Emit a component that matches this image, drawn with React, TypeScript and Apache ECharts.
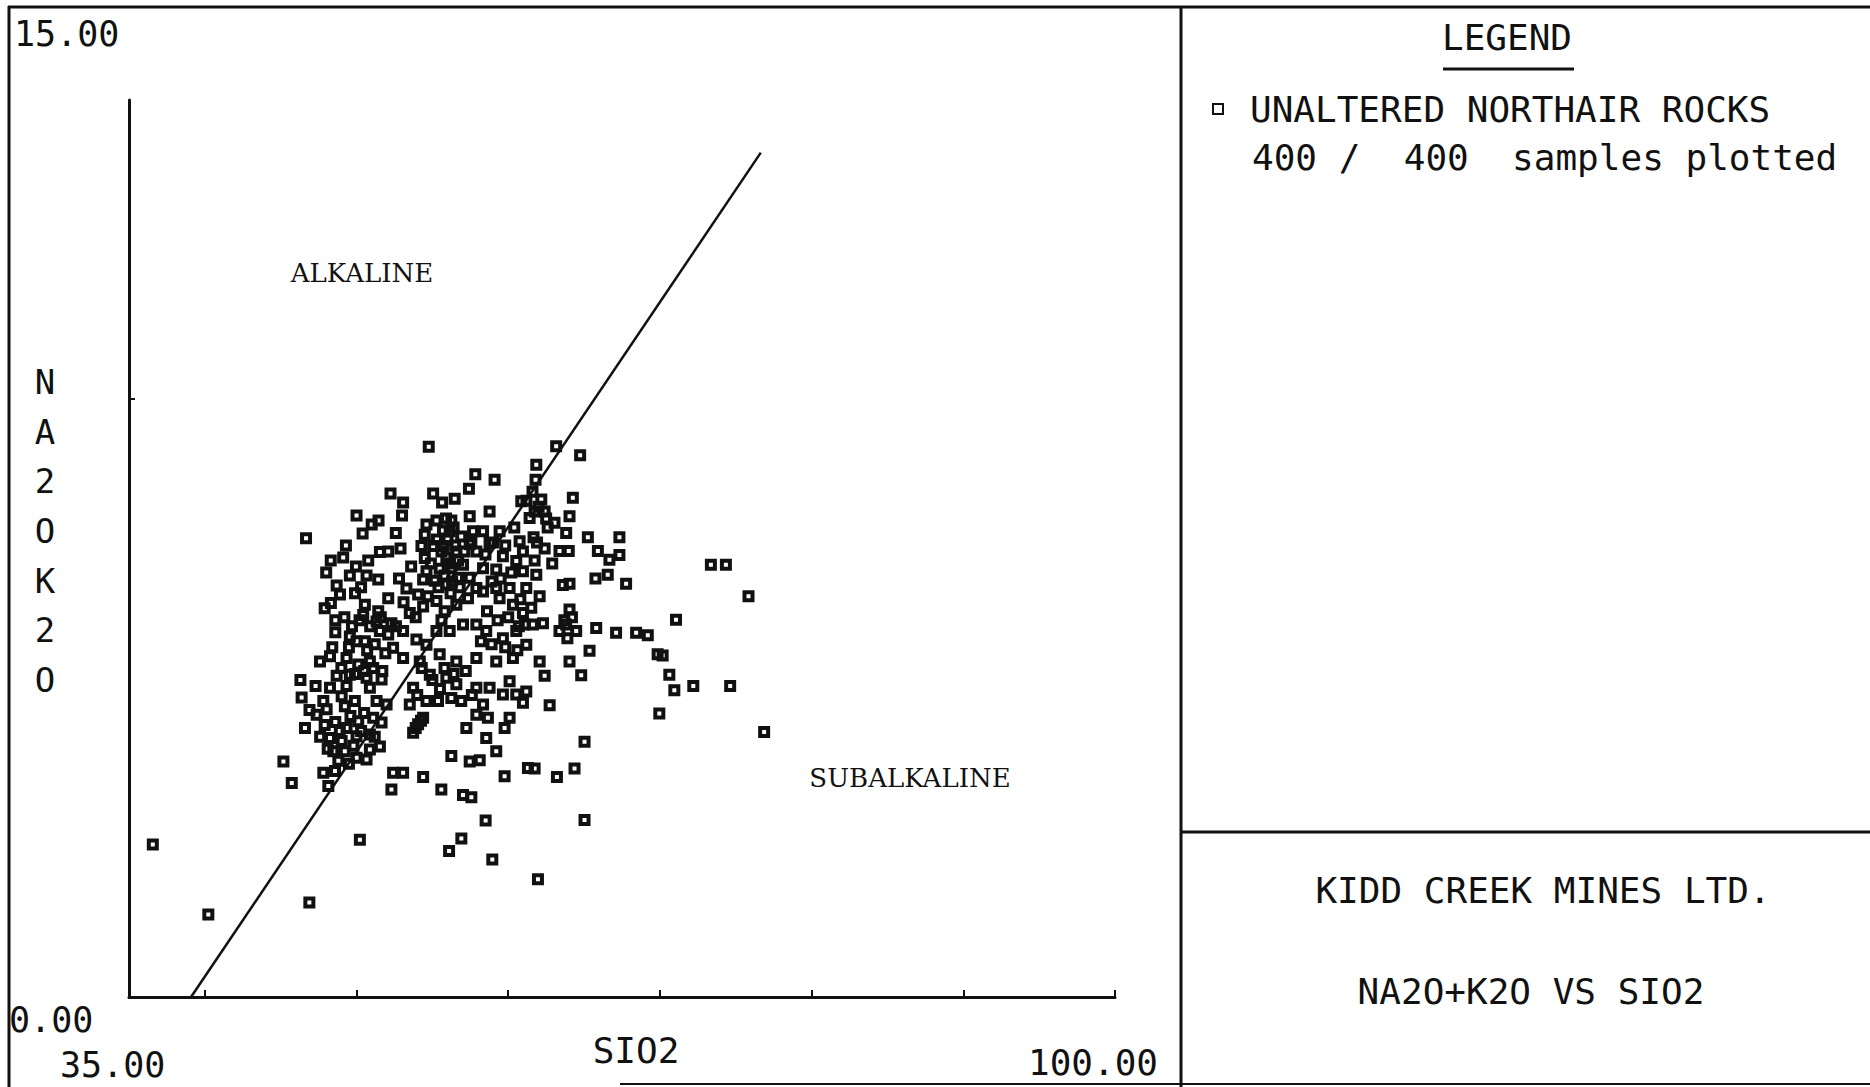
import React, { useEffect, useRef } from "react";
import * as echarts from "echarts";

// ---- axis ranges & labels ----
const xRange = [35, 100];
const yRange = [0, 15];
const xTickValues = [40, 50, 60, 70, 80, 90, 100];
const yTickValues = [10];
const xRangeLabels = ["35.00", "100.00"];
const yRangeLabels = ["0.00", "15.00"];
const xAxisName = "SIO2";
const yAxisName = "NA2OK2O";
const fieldLabels = ["ALKALINE", "SUBALKALINE"];
const seriesName = "UNALTERED NORTHAIR ROCKS";
const samplesCount = ["400", "400"];
const titleLines = ["KIDD CREEK MINES LTD.", "NA2O+K2O VS SIO2"];

// alkaline / subalkaline dividing line
const boundaryLine: number[][] = [
  [39.09, 0],
  [76.65, 14.12],
];

// ---- samples (SiO2 %, Na2O+K2O %) ----
const samplesUpper: number[][] = [
  [54.76, 9.2], [57.83, 8.74], [59.1, 8.65], [52.24, 8.42], [53.07, 8.27],
  [55.05, 8.42], [55.64, 8.27], [56.47, 8.33], [57.41, 8.5], [60.86, 8.29],
  [58.77, 8.12], [57.46, 8.04], [51.45, 7.97], [52.59, 7.76], [46.67, 7.67],
  [63.16, 9.21], [64.74, 9.06], [61.85, 8.9], [61.8, 8.65], [62.18, 8.32],
  [64.26, 8.35], [61.74, 8.12], [62.4, 8.12], [61.41, 8.01], [63.05, 7.93],
  [64.04, 8.04], [61.2, 8.3], [62.0, 8.2], [61.6, 8.45], [62.5, 8.0],
  [50.4, 7.75], [51.0, 7.9], [50.0, 8.05], [53.0, 8.05], [52.9, 7.5],
];

const samplesCoreTop: number[][] = [
  [54.61, 7.9], [55.27, 7.97], [56.25, 7.97], [54.5, 7.73], [56.14, 7.79],
  [54.28, 7.54], [55.05, 7.54], [55.7, 7.54], [56.58, 7.45], [54.5, 7.34],
  [55.92, 7.35], [54.61, 7.12], [55.48, 7.16], [56.25, 7.17], [57.02, 7.23],
  [54.39, 6.98], [55.16, 6.96], [55.92, 6.9], [56.69, 7.01], [57.46, 7.57],
  [57.68, 7.79], [58.34, 7.79], [57.46, 7.01], [57.57, 7.62], [57.9, 7.45],
  [58.77, 7.59], [59.43, 7.79], [59.65, 7.37], [60.53, 7.29], [60.97, 7.45],
  [60.75, 7.62], [59.21, 7.15], [58.34, 7.17], [57.9, 6.84], [59.21, 6.84],
  [60.09, 6.84], [60.97, 7.12], [61.19, 6.84],
  [55.9, 8.0], [56.4, 7.85], [56.0, 7.65], [56.5, 7.55], [55.6, 7.45],
  [56.1, 7.25], [56.7, 7.3], [55.8, 7.05], [56.3, 6.95], [55.4, 6.85],
  [56.9, 7.7], [57.1, 7.45], [55.3, 7.65], [54.9, 7.25], [55.7, 7.8],
  [56.8, 6.85], [58.5, 7.4], [59.0, 7.6], [59.8, 7.55], [60.4, 7.85],
  [59.5, 7.0], [60.2, 7.1], [58.9, 6.95], [60.8, 6.65], [62.4, 7.5],
  [62.9, 7.25], [62.6, 7.85], [61.9, 7.6],
];

const samplesCoreLeft: number[][] = [
  [51.54, 7.44], [52.09, 7.45], [49.12, 7.35], [49.96, 7.2], [50.77, 7.3],
  [49.56, 7.05], [50.66, 7.05], [51.43, 6.98], [48.69, 6.88], [48.91, 6.73],
  [48.31, 6.59], [53.29, 6.83], [54.06, 6.73], [52.09, 6.67], [50.55, 6.56],
  [50.44, 6.39], [51.43, 6.45], [51.32, 6.28], [53.51, 6.42], [54.39, 6.53],
  [55.27, 6.62], [55.81, 6.45], [56.58, 6.56], [57.35, 6.67], [58.34, 6.78],
  [59.43, 6.67], [60.31, 6.56], [60.97, 6.42], [61.08, 6.23],
  [52.8, 7.0], [53.6, 7.2], [53.1, 6.6], [53.9, 6.35], [54.7, 6.7],
  [55.6, 6.3], [56.2, 6.75], [52.6, 6.2], [48.0, 7.1], [48.3, 7.3],
  [49.3, 7.55], [47.9, 6.5], [48.6, 6.3], [49.9, 6.75], [50.3, 6.85],
];

const samplesCoreMiddle: number[][] = [
  [49.56, 6.03], [50.55, 5.95], [51.54, 6.12], [52.09, 6.06], [52.41, 5.84],
  [47.59, 5.61], [48.25, 5.7], [49.34, 5.67], [50.11, 5.56], [50.88, 5.61],
  [53.07, 6.12], [53.95, 5.98], [54.61, 5.89], [55.27, 6.12], [56.14, 6.12],
  [57.02, 6.23], [57.9, 6.23], [58.55, 6.12], [59.65, 6.0], [60.53, 6.12],
  [61.19, 5.89], [53.07, 5.67], [54.17, 5.61], [55.48, 5.73], [56.58, 5.61],
  [57.9, 5.67], [59.21, 5.61], [60.31, 5.67],
  [49.2, 6.35], [49.7, 6.2], [50.2, 6.3], [50.9, 6.2], [51.6, 6.35],
  [49.5, 5.85], [50.0, 5.95], [50.7, 5.8], [51.2, 5.9], [51.9, 5.75],
  [49.0, 5.5], [49.9, 5.4], [50.5, 5.45], [51.1, 5.5], [51.7, 5.45],
  [48.6, 6.1], [48.4, 5.85], [52.3, 6.25], [58.6, 6.45], [59.3, 6.3],
  [60.0, 6.35], [60.7, 6.2], [58.9, 5.9], [59.8, 5.85], [60.6, 5.8],
  [58.2, 5.95],
];

const samplesRight: number[][] = [
  [63.82, 7.76], [61.67, 7.69], [65.25, 7.69], [67.33, 7.69], [63.38, 7.46],
  [63.99, 7.46], [65.91, 7.46], [66.67, 7.31], [67.33, 7.39], [61.74, 7.3],
  [61.85, 7.06], [66.56, 7.06], [65.75, 7.0], [67.77, 6.91], [63.6, 6.89],
  [64.04, 6.91], [62.07, 6.7], [61.52, 6.51], [64.04, 6.48], [62.29, 6.25],
  [61.63, 6.23], [63.82, 6.23], [63.38, 6.12], [64.48, 6.12], [65.8, 6.17],
  [67.11, 6.09], [68.43, 6.09], [69.2, 6.05], [65.36, 5.79], [64.04, 5.61],
  [69.85, 5.73], [70.18, 5.71], [71.06, 6.31], [73.36, 7.23], [74.35, 7.23],
  [75.84, 6.7], [62.07, 5.61], [63.7, 6.3], [64.2, 6.35], [63.9, 6.0],
];

const samplesLower: number[][] = [
  [48.69, 5.37], [49.56, 5.39], [50.66, 5.34], [51.65, 5.31], [48.25, 5.17],
  [49.34, 5.2], [50.88, 5.17], [46.38, 5.01], [47.81, 4.95], [47.37, 4.72],
  [48.03, 4.81], [49.02, 5.03], [49.89, 4.95], [49.23, 4.86], [51.32, 4.95],
  [51.98, 4.89], [51.1, 4.67], [51.65, 4.59], [50.11, 4.61], [49.34, 4.5],
  [48.25, 4.33], [49.02, 4.28], [50.0, 4.36], [50.88, 4.39], [51.54, 4.19],
  [48.47, 4.11], [49.23, 4.11], [50.0, 4.0], [50.66, 3.97], [50.88, 4.14],
  [47.81, 3.75], [48.58, 3.78], [48.14, 3.53], [45.18, 3.94], [45.73, 3.58],
  [52.41, 3.75], [53.07, 3.75], [54.39, 3.68], [52.3, 3.47], [55.59, 3.47],
  [57.02, 3.38], [57.57, 3.34], [56.25, 4.03], [57.46, 3.94], [58.12, 3.96],
  [59.76, 3.69], [53.73, 4.42], [54.06, 4.56], [54.39, 4.67], [53.73, 5.17],
  [54.61, 4.95], [53.51, 4.89], [55.37, 4.95], [56.25, 5.0], [56.58, 5.23],
  [55.92, 5.34], [54.83, 5.39], [57.9, 5.17], [58.77, 5.17], [59.65, 5.06],
  [60.53, 5.06], [61.19, 5.11], [58.34, 4.89], [58.66, 4.67], [57.9, 4.72],
  [57.24, 4.5], [58.55, 4.33], [59.21, 4.11], [60.09, 4.67], [59.76, 4.5],
  [60.97, 4.92], [60.09, 5.28], [61.3, 3.83],
  [62.4, 5.37], [64.81, 5.38], [70.62, 5.39], [70.95, 5.13], [72.2, 5.2],
  [74.63, 5.2], [69.96, 4.74], [76.87, 4.43], [62.73, 4.88], [65.03, 4.27],
  [61.74, 3.82], [64.37, 3.82], [63.21, 3.68],
  [47.9, 4.55], [48.6, 4.6], [49.6, 4.7], [50.5, 4.75], [48.9, 4.45],
  [49.8, 4.2], [50.3, 4.45], [48.1, 4.15], [48.8, 3.95], [49.5, 3.9],
  [51.2, 4.35], [47.6, 4.35], [53.9, 4.5], [54.25, 4.62], [54.3, 5.5],
  [55.0, 5.3], [55.8, 5.5], [56.4, 5.4], [57.2, 5.45], [57.6, 5.05],
  [56.9, 4.95], [55.5, 5.15], [54.0, 5.05], [46.3, 5.3], [46.9, 4.8],
  [46.6, 4.5], [47.3, 5.2],
];

const samplesOutliers: number[][] = [
  [58.51, 2.95], [56.91, 2.65], [56.1, 2.44], [58.95, 2.3], [50.22, 2.63],
  [46.89, 1.58], [65.03, 2.96], [61.96, 1.97], [36.57, 2.55], [40.23, 1.38],
];

const allSamples = [
  ...samplesUpper,
  ...samplesCoreTop,
  ...samplesCoreLeft,
  ...samplesCoreMiddle,
  ...samplesRight,
  ...samplesLower,
  ...samplesOutliers,
];

const INK = "#111111";
const MONO = "'DejaVu Sans Mono', monospace";
const SERIF = "'DejaVu Serif', serif";

function txt(x: number, y: number, text: string, font: string, align = "left", extra: any = {}) {
  return {
    type: "text",
    x,
    y,
    silent: true,
    style: { text, font, fill: INK, align, verticalAlign: "middle", ...extra },
  };
}

function seg(x1: number, y1: number, x2: number, y2: number, w = 3) {
  return {
    type: "line",
    silent: true,
    shape: { x1, y1, x2, y2 },
    style: { stroke: INK, lineWidth: w },
  };
}

export default function App() {
  const ref = useRef<HTMLDivElement>(null);

  useEffect(() => {
    document.body.style.margin = "0";
    document.body.style.background = "#fff";
    if (!ref.current) return;
    const chart = echarts.init(ref.current, undefined, { renderer: "svg" });

    const stacked = yAxisName.split("").join("\n");

    chart.setOption({
      animation: false,
      backgroundColor: "#ffffff",
      grid: { left: 129, top: 100, width: 986, height: 897 },
      xAxis: {
        type: "value",
        min: xRange[0],
        max: xRange[1],
        axisLine: { show: true, lineStyle: { color: INK, width: 3 } },
        axisTick: {
          show: true,
          inside: true,
          length: 7,
          customValues: xTickValues,
          lineStyle: { color: INK, width: 2 },
        },
        axisLabel: { show: false },
        splitLine: { show: false },
      },
      yAxis: {
        type: "value",
        min: yRange[0],
        max: yRange[1],
        axisLine: { show: true, lineStyle: { color: INK, width: 3 } },
        axisTick: {
          show: true,
          inside: true,
          length: 6,
          customValues: yTickValues,
          lineStyle: { color: INK, width: 2 },
        },
        axisLabel: { show: false },
        splitLine: { show: false },
      },
      legend: {
        show: true,
        data: [seriesName],
        left: 1207,
        top: 86,
        itemWidth: 10,
        itemHeight: 10,
        selectedMode: false,
        textStyle: {
          fontFamily: MONO,
          fontSize: 36,
          color: INK,
          padding: [0, 0, 0, 22],
        },
      },
      series: [
        {
          name: seriesName,
          type: "scatter",
          data: allSamples,
          symbol: "rect",
          symbolSize: 8,
          silent: true,
          itemStyle: {
            color: "rgba(255,255,255,0)",
            borderColor: INK,
            borderWidth: 4,
            opacity: 1,
          },
        },
        {
          name: "boundary",
          type: "line",
          data: boundaryLine,
          symbol: "none",
          silent: true,
          lineStyle: { color: INK, width: 2.5 },
        },
      ],
      graphic: [
        // frame
        seg(8, 7, 1870, 7, 3),
        seg(9, 6, 9, 1087, 3),
        seg(1181, 6, 1181, 1087, 3),
        seg(1181, 832, 1870, 832, 3),
        seg(620, 1084, 1870, 1084, 2),
        // axis range labels
        txt(14, 34, yRangeLabels[1], `35px ${MONO}`),
        txt(9, 1020, yRangeLabels[0], `35px ${MONO}`),
        txt(60, 1065, xRangeLabels[0], `35px ${MONO}`),
        txt(1028, 1062, xRangeLabels[1], `36px ${MONO}`),
        txt(636, 1050, xAxisName, `36px ${MONO}`, "center"),
        txt(45, 531, stacked, `34px ${MONO}`, "center", { lineHeight: 49.7 }),
        // field labels
        txt(362, 273, fieldLabels[0], `26px ${SERIF}`, "center"),
        txt(910, 778, fieldLabels[1], `26px ${SERIF}`, "center"),
        // legend panel
        txt(1507, 37, "LEGEND", `36px ${MONO}`, "center"),
        seg(1443, 69, 1574, 69, 3),
        txt(1252, 157, `${samplesCount[0]} /  ${samplesCount[1]}  samples plotted`, `36px ${MONO}`),
        // title panel
        txt(1543, 890, titleLines[0], `36px ${MONO}`, "center"),
        txt(1531, 991, titleLines[1], `36px ${MONO}`, "center"),
      ],
    });

    return () => chart.dispose();
  }, []);

  return <div ref={ref} style={{ width: 1870, height: 1087 }} />;
}
